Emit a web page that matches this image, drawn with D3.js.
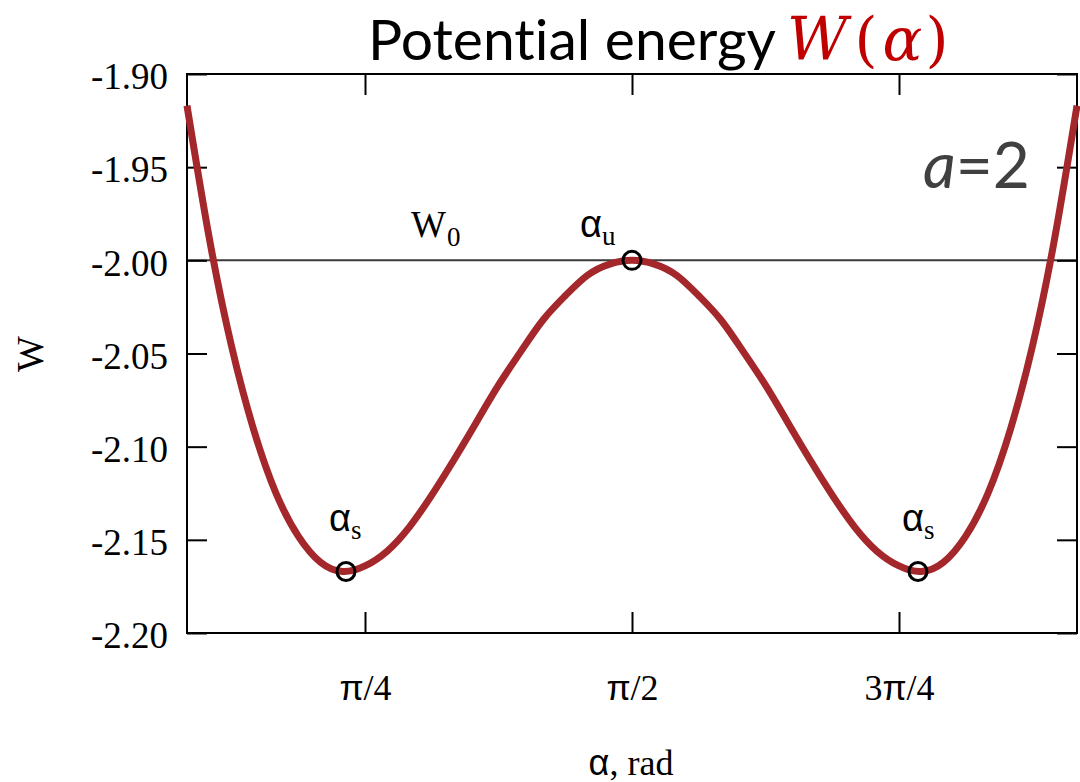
<!DOCTYPE html>
<html>
<head>
<meta charset="utf-8">
<script src="https://cdn.jsdelivr.net/npm/d3@7"></script>
<style>
  html, body { margin: 0; padding: 0; background: #fff; }
  svg { display: block; }
  text { font-variant-ligatures: none; }
</style>
</head>
<body>
<div id="chart"></div>
<script>
// angle in degrees (pi/4 = 45)
const alphaDeg = [
  15, 18.75, 22.5, 26.25, 30, 33.75, 37.5, 41.25, 45, 48.75, 52.5, 56.25, 60, 63.75,
  67.5, 71.25, 75, 78.75, 82.5, 86.25, 90, 93.75, 97.5, 101.25, 105, 108.75, 112.5,
  116.25, 120, 123.75, 127.5, 131.25, 135, 138.75, 142.5, 146.25, 150, 153.75, 157.5,
  161.25, 165
];
const energyW = [
  -1.917, -1.988, -2.046, -2.091, -2.125, -2.148, -2.162, -2.167, -2.164, -2.156, -2.143,
  -2.126, -2.107, -2.087, -2.067, -2.049, -2.032, -2.019, -2.008, -2.002, -2.000, -2.002,
  -2.008, -2.019, -2.032, -2.049, -2.067, -2.087, -2.107, -2.126, -2.143, -2.156, -2.164,
  -2.167, -2.162, -2.148, -2.125, -2.091, -2.046, -1.988, -1.917
];
// marked critical points
const criticalNames = ["s", "u", "s"];
const criticalAlpha = [41.8, 90, 138.2];
const criticalW = [-2.167, -2.000, -2.167];
const levelW0 = -2.0;

const xTickValues = [45, 90, 135];
const xTickPrefix = ["", "", "3"];
const xTickSuffix = ["/4", "/2", "/4"];
const yTickValues = [-1.90, -1.95, -2.00, -2.05, -2.10, -2.15, -2.20];

const width = 1080;
const height = 782;
const margin = { top: 74, right: 3, bottom: 149, left: 187 };
const innerRight = width - margin.right;
const innerBottom = height - margin.bottom;

const x = d3.scaleLinear().domain([15, 165]).range([margin.left, innerRight]);
const y = d3.scaleLinear().domain([-2.20, -1.90]).range([innerBottom, margin.top]);

const svg = d3.select("#chart").append("svg")
  .attr("width", width)
  .attr("height", height)
  .attr("viewBox", `0 0 ${width} ${height}`);

const serif = "'Liberation Serif', 'Times New Roman', serif";
const sans = "'Liberation Sans', Arial, sans-serif";

// W0 level line
svg.append("line")
  .attr("x1", x(15)).attr("x2", x(165))
  .attr("y1", y(levelW0)).attr("y2", y(levelW0))
  .attr("stroke", "#3a3a3a")
  .attr("stroke-width", 2);

// axes, ticks pointing inward
const bottomAxis = svg.append("g")
  .attr("transform", `translate(0,${innerBottom})`)
  .call(d3.axisBottom(x).tickValues(xTickValues).tickSize(-21).tickPadding(41).tickFormat(""));
const topAxis = svg.append("g")
  .attr("transform", `translate(0,${margin.top})`)
  .call(d3.axisTop(x).tickValues(xTickValues).tickSize(-21).tickFormat(""));
const leftAxis = svg.append("g")
  .attr("transform", `translate(${margin.left},0)`)
  .call(d3.axisLeft(y).tickValues(yTickValues).tickSize(-20).tickPadding(19)
    .tickFormat((d) => d.toFixed(2)));
const rightAxis = svg.append("g")
  .attr("transform", `translate(${innerRight},0)`)
  .call(d3.axisRight(y).tickValues(yTickValues).tickSize(-20).tickFormat(""));

[bottomAxis, topAxis, leftAxis, rightAxis].forEach((g) => {
  g.attr("font-family", serif);
  g.select(".domain").remove();
  g.selectAll(".tick line").attr("stroke", "#000").attr("stroke-width", 2);
});
bottomAxis.selectAll(".tick text")
  .attr("font-size", 36).attr("fill", "#000")
  .each(function (d, i) {
    const t = d3.select(this);
    t.append("tspan").attr("font-family", serif).text(xTickPrefix[i]);
    t.append("tspan").attr("font-family", sans).attr("font-size", 35).text("π");
    t.append("tspan").attr("font-family", serif).text(xTickSuffix[i]);
  });
leftAxis.selectAll(".tick text")
  .attr("font-family", serif).attr("font-size", 37).attr("fill", "#000")
  .attr("dy", "0.40em");

// frame
svg.append("rect")
  .attr("x", margin.left).attr("y", margin.top)
  .attr("width", innerRight - margin.left)
  .attr("height", innerBottom - margin.top)
  .attr("fill", "none")
  .attr("stroke", "#000")
  .attr("stroke-width", 2);

// curve
const points = alphaDeg.map((a, i) => [a, energyW[i]]);
svg.append("path")
  .datum(points)
  .attr("fill", "none")
  .attr("stroke", "#a4282b")
  .attr("stroke-width", 7)
  .attr("d", d3.line().x((d) => x(d[0])).y((d) => y(d[1])).curve(d3.curveNatural));

// critical point markers
const labelShift = [[-17, -41], [-52, -23], [-16, -41]];
criticalAlpha.forEach((a, i) => {
  svg.append("circle")
    .attr("cx", x(a)).attr("cy", y(criticalW[i]))
    .attr("r", 9)
    .attr("fill", "none")
    .attr("stroke", "#000")
    .attr("stroke-width", 3);
  const label = svg.append("text")
    .attr("x", x(a) + labelShift[i][0])
    .attr("y", y(criticalW[i]) + labelShift[i][1])
    .attr("font-size", 38)
    .attr("fill", "#000");
  label.append("tspan").attr("font-family", sans).text("α");
  label.append("tspan").attr("font-family", serif).attr("font-size", 27).attr("dy", 8).text(criticalNames[i]);
});

// W0 label
const w0 = svg.append("text")
  .attr("x", 411).attr("y", 237)
  .attr("font-family", serif).attr("font-size", 37).attr("fill", "#000");
w0.append("tspan").text("W");
w0.append("tspan").attr("font-size", 27).attr("dx", 1).attr("dy", 9).text("0");

// title, one text element
const title = svg.append("text")
  .attr("x", 368).attr("y", 60)
  .attr("font-size", 57);
title.append("tspan")
  .attr("font-family", "Lato, 'Open Sans', sans-serif")
  .attr("fill", "#000")
  .text("Potential energy");
const mathFont = "'DejaVu Serif', serif";
title.append("tspan").attr("dx", 11).attr("font-family", mathFont).attr("font-size", 59)
  .attr("font-style", "italic").attr("fill", "#c00000").text("W");
title.append("tspan").attr("dx", 7).attr("font-family", mathFont).attr("font-size", 59)
  .attr("fill", "#c00000").text("(");
title.append("tspan").attr("dx", 5).attr("font-family", mathFont).attr("font-size", 59)
  .attr("font-style", "italic").attr("fill", "#c00000").text("α");
title.append("tspan").attr("dx", 3).attr("font-family", mathFont).attr("font-size", 59)
  .attr("fill", "#c00000").text(")");

// parameter note
const note = svg.append("text")
  .attr("x", 923).attr("y", 188)
  .attr("font-family", "Lato, 'Open Sans', sans-serif")
  .attr("font-size", 64).attr("fill", "#404040");
note.append("tspan").attr("font-style", "italic").text("a");
note.append("tspan").text("=2");

// axis titles
const xTitle = svg.append("text")
  .attr("x", 631).attr("y", 775)
  .attr("text-anchor", "middle")
  .attr("font-size", 36).attr("fill", "#000");
xTitle.append("tspan").attr("font-family", sans).text("α");
xTitle.append("tspan").attr("font-family", serif).text(", rad");

svg.append("text")
  .attr("transform", "translate(43,354) rotate(-90)")
  .attr("text-anchor", "middle")
  .attr("font-family", serif).attr("font-size", 38).attr("fill", "#000")
  .text("W");
</script>
</body>
</html>
